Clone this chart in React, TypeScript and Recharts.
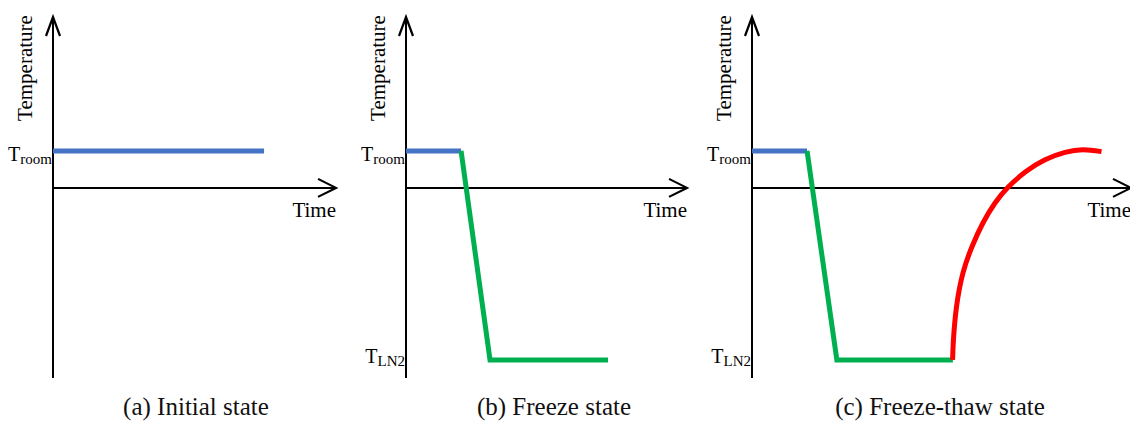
import React from 'react';
import { LineChart, Line, XAxis, YAxis, ReferenceLine } from 'recharts';

// temperature levels (arbitrary units, 0 = the time axis)
const tRoom = 1;
const tLN2 = -4.65;
const tempTicks = [tRoom, tLN2];
const tempTickSubs = ['room', 'LN2'];

// (a) initial state
const aBlueTime = [0, 75.1];
const aBlueTemp = [tRoom, tRoom];

// (b) freeze state
const bBlueTime = [0, 19.6];
const bBlueTemp = [tRoom, tRoom];
const bGreenTime = [19.6, 29.9, 71.9];
const bGreenTemp = [tRoom, tLN2, tLN2];

// (c) freeze-thaw state
const cBlueTime = [0, 19.6];
const cBlueTemp = [tRoom, tRoom];
const cGreenTime = [19.6, 30.2, 71.5];
const cGreenTemp = [tRoom, tLN2, tLN2];
const cRedTime = [71.4, 71.7, 72.8, 75.1, 78.3, 82.2, 86.5, 91.3, 97.5, 104.3, 111.4, 117.8, 124.4];
const cRedTemp = [tLN2, -4.11, -3.21, -2.3, -1.59, -0.95, -0.41, 0.03, 0.44, 0.76, 0.96, 1.03, 0.98];

const captions = ['(a) Initial state', '(b) Freeze state', '(c) Freeze-thaw state'];

const FONT = '"Liberation Serif", "Times New Roman", Times, serif';
const BLUE = '#4472c4';
const GREEN = '#00b050';
const RED = '#ff0000';

const zip = (t: number[], v: number[]) => t.map((x, i) => ({ t: x, temp: v[i] }));

const TempTick = (props: any) => {
  const { x, y, payload } = props;
  const i = tempTicks.indexOf(payload.value);
  const isRoom = payload.value === tRoom;
  return (
    <text x={x} y={y + (isRoom ? 10 : 3)} textAnchor="end" fontFamily={FONT} fill="#000">
      <tspan fontSize={20}>T</tspan>
      <tspan fontSize={15} dy={3}>{tempTickSubs[i]}</tspan>
    </text>
  );
};

const tempLabel = (props: any) => {
  const vb = props.viewBox || { x: 0, y: 17, width: 53 };
  const x = vb.x + vb.width - 21;
  const y = vb.y + 51;
  return (
    <text x={x} y={y} transform={`rotate(-90 ${x} ${y})`} textAnchor="middle" fontFamily={FONT} fontSize={21} fill="#000">
      Temperature
    </text>
  );
};

const timeLabel = (props: any) => {
  const vb = props.viewBox;
  return (
    <text x={vb.x + vb.width} y={vb.y + 29} textAnchor="end" fontFamily={FONT} fontSize={21} fill="#000">
      Time
    </text>
  );
};

const HArrow = (p: any) => {
  const x1 = Math.min(p.x1, p.x2);
  const x2 = Math.max(p.x1, p.x2);
  return (
    <g>
      <line x1={x1} y1={p.y1} x2={x2} y2={p.y1} stroke="#000" strokeWidth={2} />
      <polyline points={`${x2 - 18},${p.y1 - 9} ${x2},${p.y1} ${x2 - 18},${p.y1 + 9}`} fill="none" stroke="#000" strokeWidth={2.2} />
    </g>
  );
};

const VArrow = (p: any) => {
  const top = Math.min(p.y1, p.y2);
  const bottom = Math.max(p.y1, p.y2);
  return (
    <g>
      <line x1={p.x1} y1={top} x2={p.x1} y2={bottom} stroke="#000" strokeWidth={2} />
      <polyline points={`${p.x1 - 7},${top + 19} ${p.x1},${top} ${p.x1 + 7},${top + 19}`} fill="none" stroke="#000" strokeWidth={2.2} />
    </g>
  );
};

type Series = { time: number[]; temp: number[]; color: string; curve?: 'linear' | 'natural' };

function Panel({ left, plotWidth, maxTime, ticks, series }: { left: number; plotWidth: number; maxTime: number; ticks: number[]; series: Series[] }) {
  const width = 53 + plotWidth + 12;
  return (
    <div style={{ position: 'absolute', left, top: 0 }}>
      <LineChart width={width} height={422} margin={{ top: 17, right: 12, bottom: 44, left: 0 }}>
        <XAxis type="number" dataKey="t" domain={[0, maxTime]} allowDataOverflow hide />
        <YAxis
          type="number"
          domain={[-5.14, 4.62]}
          allowDataOverflow
          ticks={ticks}
          interval={0}
          width={53}
          axisLine={false}
          tickLine={false}
          tickSize={0}
          tickMargin={1}
          tick={<TempTick />}
          label={tempLabel}
        />
        <ReferenceLine x={0} shape={VArrow} />
        <ReferenceLine y={0} shape={HArrow} label={timeLabel} />
        {series.map((s, i) => (
          <Line
            key={i}
            data={zip(s.time, s.temp)}
            dataKey="temp"
            type={s.curve || 'linear'}
            stroke={s.color}
            strokeWidth={5}
            dot={false}
            activeDot={false}
            isAnimationActive={false}
          />
        ))}
      </LineChart>
    </div>
  );
}

export default function App() {
  const captionCenters = [196, 554, 940];
  return (
    <div style={{ position: 'absolute', left: 0, top: 0, width: 1130, height: 422, overflow: 'hidden', background: '#fff' }}>
      <Panel left={0} plotWidth={283} maxTime={100.7} ticks={[tRoom]} series={[{ time: aBlueTime, temp: aBlueTemp, color: BLUE }]} />
      <Panel
        left={353}
        plotWidth={281}
        maxTime={100}
        ticks={tempTicks}
        series={[
          { time: bBlueTime, temp: bBlueTemp, color: BLUE },
          { time: bGreenTime, temp: bGreenTemp, color: GREEN },
        ]}
      />
      <Panel
        left={699}
        plotWidth={379}
        maxTime={134.9}
        ticks={tempTicks}
        series={[
          { time: cBlueTime, temp: cBlueTemp, color: BLUE },
          { time: cGreenTime, temp: cGreenTemp, color: GREEN },
          { time: cRedTime, temp: cRedTemp, color: RED, curve: 'natural' },
        ]}
      />
      {captions.map((c, i) => (
        <div
          key={c}
          style={{
            position: 'absolute',
            top: 394,
            left: captionCenters[i] - 150,
            width: 300,
            textAlign: 'center',
            fontFamily: FONT,
            fontSize: 25,
            lineHeight: '25px',
            color: '#111',
            whiteSpace: 'nowrap',
          }}
        >
          {c}
        </div>
      ))}
    </div>
  );
}
